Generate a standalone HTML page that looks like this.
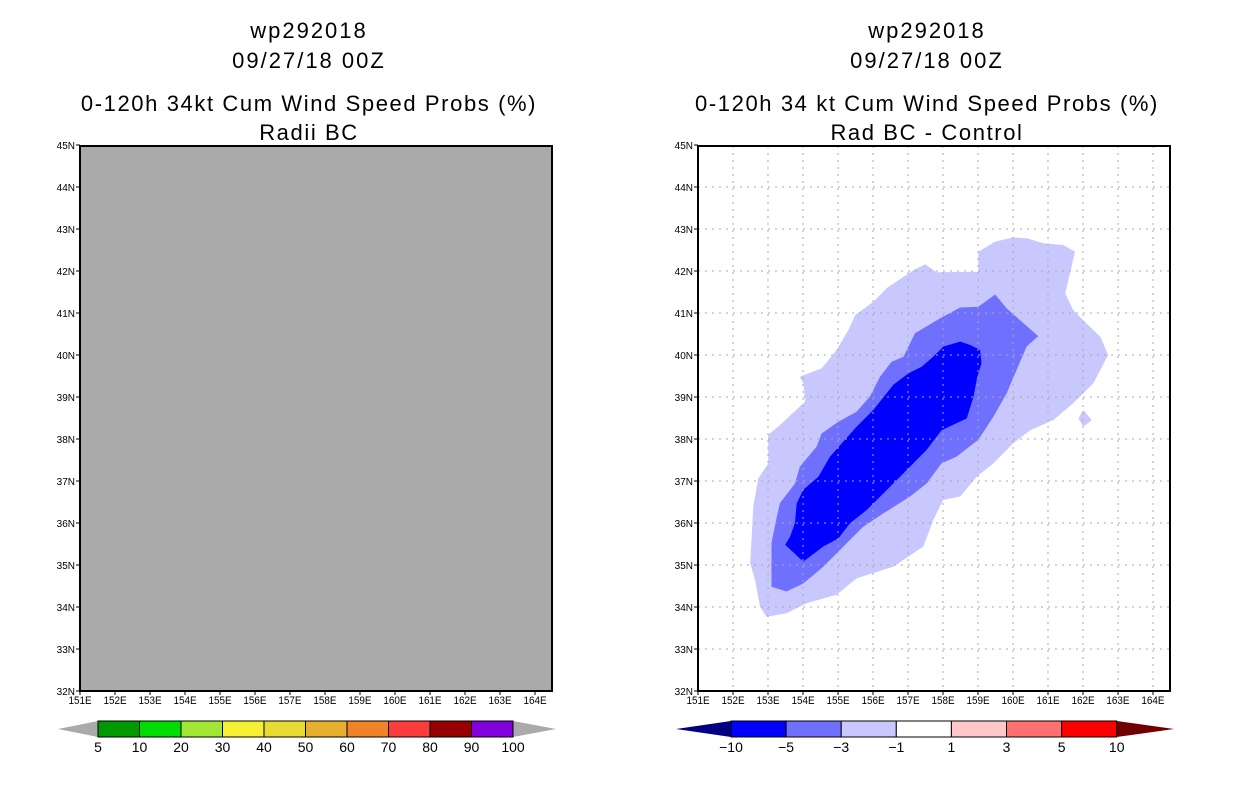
<!DOCTYPE html>
<html><head><meta charset="utf-8"><style>
html,body{margin:0;padding:0;background:#fff;}
svg{display:block;font-family:"Liberation Sans",sans-serif;}
</style></head><body>
<svg id="c" width="1236" height="800" viewBox="0 0 1236 800" xmlns="http://www.w3.org/2000/svg"></svg>
<script>
const lonTicks=[151,152,153,154,155,156,157,158,159,160,161,162,163,164];
const latTicks=[32,33,34,35,36,37,38,39,40,41,42,43,44,45];
const leftLevels=["5","10","20","30","40","50","60","70","80","90","100"];
const leftColors=["#009900","#00dc00","#a0e632","#f5f032","#e6dc32","#e6af2d","#f08228","#fa3c3c","#960000","#8200dc"];
const rightLevels=["-10","-5","-3","-1","1","3","5","10"];
const rightColors=["#0000ff","#7070ff","#c8c8ff","#ffffff","#ffc8c8","#ff7070","#ff0000"];
// contour polygons [lon,lat]
const outerLon=[152.96,153.53,154.10,154.96,155.53,156.58,157.44,157.72,158.01,158.49,158.96,159.44,160.01,160.49,161.15,161.72,162.30,162.49,162.72,162.49,162.10,161.72,161.49,161.63,161.77,161.44,160.87,160.39,160.01,159.49,159.01,159.01,157.82,157.49,157.15,156.39,156.01,155.49,155.30,154.96,154.53,153.91,154.01,154.06,153.34,153.01,153.01,152.72,152.58,152.49,152.63,152.77];
const outerLat=[33.77,33.85,34.09,34.29,34.68,34.96,35.44,36.07,36.55,36.63,37.10,37.42,37.90,38.21,38.45,38.85,39.33,39.64,40.00,40.44,40.75,41.07,41.47,41.94,42.46,42.62,42.66,42.78,42.80,42.70,42.46,41.98,41.97,42.16,42.02,41.59,41.27,40.95,40.60,40.12,39.68,39.48,39.33,38.89,38.33,38.10,37.42,37.06,36.39,35.04,34.64,34.01];
const islandLon=[162.01,162.25,162.01,161.87];
const islandLat=[38.69,38.45,38.29,38.49];
const midLon=[153.10,153.53,154.01,154.58,155.06,155.72,156.30,157.06,157.53,157.96,158.39,159.01,159.44,159.82,160.10,160.39,160.72,160.20,159.82,159.49,159.01,158.49,157.91,157.20,156.87,156.53,156.20,155.91,155.53,155.01,154.53,154.39,153.91,153.77,153.34,153.25,153.10];
const midLat=[34.48,34.37,34.56,34.96,35.36,35.91,36.23,36.63,36.94,37.42,37.58,37.98,38.53,39.09,39.64,40.20,40.45,40.83,41.11,41.44,41.15,41.13,40.87,40.52,39.96,39.84,39.48,39.01,38.65,38.41,38.13,37.82,37.34,36.94,36.47,36.15,35.52];
const coreLon=[153.49,154.01,154.58,155.01,155.34,155.82,156.30,156.96,157.53,157.96,158.68,158.87,158.98,159.10,159.06,158.77,158.49,158.01,157.72,157.39,157.01,156.58,156.01,155.53,155.20,154.77,154.44,154.01,153.82,153.77,153.63];
const coreLat=[35.48,35.08,35.44,35.63,35.99,36.31,36.71,37.26,37.74,38.21,38.49,39.01,39.48,39.80,40.12,40.24,40.32,40.20,39.96,39.72,39.56,39.29,38.69,38.29,37.98,37.58,37.10,36.79,36.47,36.00,35.67];

const NS="http://www.w3.org/2000/svg";
const svg=document.getElementById('c');
function el(tag,attrs,parent,text){const e=document.createElementNS(NS,tag);for(const k in attrs)e.setAttribute(k,attrs[k]);if(text!==undefined)e.textContent=text;(parent||svg).appendChild(e);return e;}
const PX=35,PY=42,TOP=146,BOT=691,W=472;
function xs(x0){return lon=>x0+(lon-151)*PX;}
function ys(lat){return BOT-(lat-32)*PY;}

function titles(cx,t1,t2,g){
  let e;
  e=el('text',{x:cx,y:38,'text-anchor':'middle','font-size':22,'letter-spacing':2},g,'wp292018');
  
  e=el('text',{x:cx,y:68,'text-anchor':'middle','font-size':22,'letter-spacing':2},g,'09/27/18 00Z');
  
  e=el('text',{x:cx,y:111,'text-anchor':'middle','font-size':22,'letter-spacing':1.6},g,t1);
  
  e=el('text',{x:cx,y:140,'text-anchor':'middle','font-size':22,'letter-spacing':1.6},g,t2);
  
}
function axes(x0,g){
  const X=xs(x0);
  lonTicks.forEach(l=>{
    el('line',{x1:X(l),x2:X(l),y1:BOT,y2:BOT+4,stroke:'#000'},g);
    const t=el('text',{x:X(l),y:BOT+13,'text-anchor':'middle','font-size':11,transform:`translate(${X(l)},0) scale(0.9,1) translate(${-X(l)},0)`},g,l+'E');
    
  });
  latTicks.forEach(l=>{
    el('line',{x1:x0-4,x2:x0,y1:ys(l),y2:ys(l),stroke:'#000'},g);
    const t=el('text',{x:x0-5,y:ys(l)+4,'text-anchor':'end','font-size':10},g,l+'N');
    
  });
}
function poly(lons,lats,X,fill,g,name){
  const p=lons.map((l,i)=>X(l).toFixed(1)+','+ys(lats[i]).toFixed(1)).join(' ');
  const e=el('polygon',{points:p,fill:fill},g);
  
}

// LEFT PANEL
const gl=el('g',{});

titles(309,'0-120h 34kt Cum Wind Speed Probs (%)','Radii BC',gl);
const lp=el('rect',{x:80,y:TOP,width:W,height:BOT-TOP,fill:'#aaaaaa',stroke:'#000','stroke-width':2},gl);

axes(80,gl);
(function(){
  const g=el('g',{},gl);
  const x0=98,bw=41.5,y0=721,h=16;
  el('polygon',{points:`58,${y0+h/2} ${x0},${y0} ${x0},${y0+h}`,fill:'#aaaaaa'},g);
  el('polygon',{points:`${x0+bw*leftColors.length},${y0} ${556},${y0+h/2} ${x0+bw*leftColors.length},${y0+h}`,fill:'#aaaaaa'},g);
  leftColors.forEach((c,i)=>{
    const r=el('rect',{x:x0+i*bw,y:y0,width:bw,height:h,fill:c,stroke:'#000','stroke-width':1},g);
    
  });
  leftLevels.forEach((s,i)=>{
    const t=el('text',{x:x0+i*bw,y:752,'text-anchor':'middle','font-size':14},g,s);
    
  });
})();

// RIGHT PANEL
const gr=el('g',{});

titles(927,'0-120h 34 kt Cum Wind Speed Probs (%)','Rad BC - Control',gr);
const RX=698,X=xs(RX);
el('rect',{x:RX,y:TOP,width:W,height:BOT-TOP,fill:'#fff'},gr);
poly(outerLon,outerLat,X,'#c8c8ff',gr,'contour-minus1');
poly(islandLon,islandLat,X,'#c8c8ff',gr,'contour-minus1-island');
poly(midLon,midLat,X,'#7070ff',gr,'contour-minus3');
poly(coreLon,coreLat,X,'#0000ff',gr,'contour-minus5');
lonTicks.slice(1).forEach(l=>{const e=el('line',{x1:X(l),x2:X(l),y1:TOP,y2:BOT,stroke:'#aaa','stroke-dasharray':'2,5'},gr);});
latTicks.slice(1,-1).forEach(l=>{const e=el('line',{x1:RX,x2:RX+W,y1:ys(l),y2:ys(l),stroke:'#aaa','stroke-dasharray':'2,5'},gr);});
const rp=el('rect',{x:RX,y:TOP,width:W,height:BOT-TOP,fill:'none',stroke:'#000','stroke-width':2},gr);

axes(RX,gr);
(function(){
  const g=el('g',{},gr);
  const x0=731,bw=55.1,y0=721,h=16,xe=x0+bw*rightColors.length;
  el('polygon',{points:`676,${y0+h/2} ${x0},${y0} ${x0},${y0+h}`,fill:'#000080'},g);
  el('polygon',{points:`${xe},${y0} 1174,${y0+h/2} ${xe},${y0+h}`,fill:'#700000'},g);
  rightColors.forEach((c,i)=>{
    const r=el('rect',{x:x0+i*bw,y:y0,width:bw,height:h,fill:c,stroke:'#000','stroke-width':1},g);
    
  });
  rightLevels.forEach((s,i)=>{
    const t=el('text',{x:x0+i*bw,y:752,'text-anchor':'middle','font-size':14},g,s.replace('-','\u2212'));
    
  });
})();
</script>
</body></html>
